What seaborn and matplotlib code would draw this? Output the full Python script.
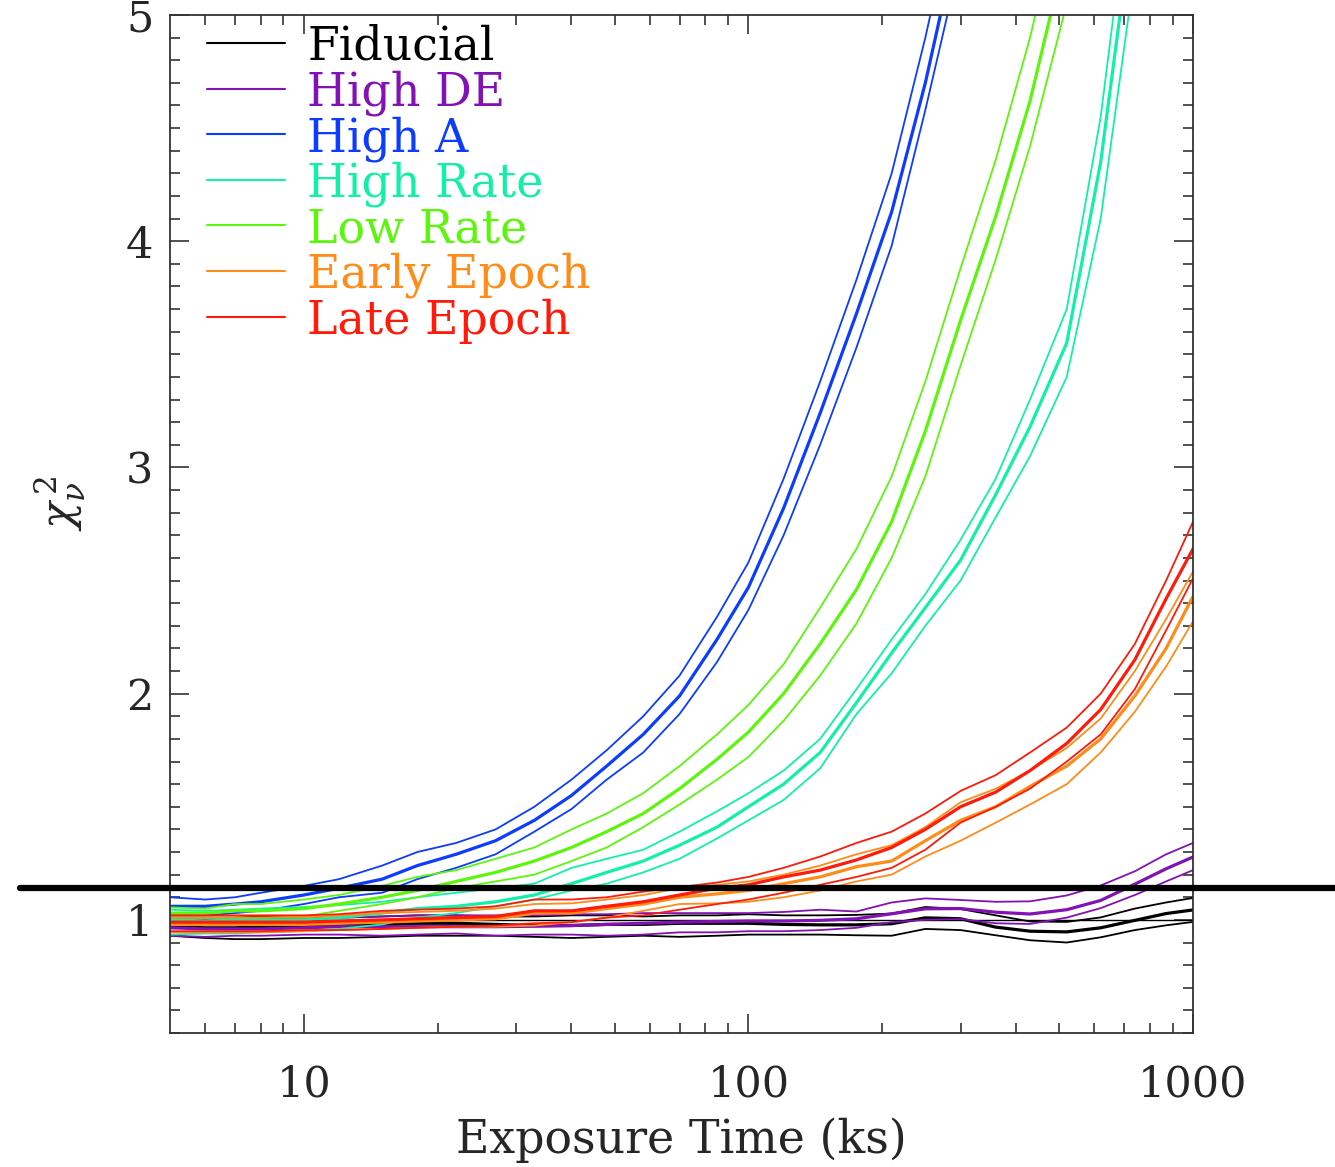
import matplotlib
matplotlib.use('Agg')
import matplotlib.pyplot as plt
import matplotlib.transforms as mtransforms
from matplotlib.lines import Line2D
from matplotlib.ticker import FixedLocator, MultipleLocator, NullFormatter
import numpy as np
import pandas as pd
import seaborn as sns

nan = np.nan

# exposure times (ks) where the curves are sampled
exposure = [5, 6, 7, 8, 10, 12, 15, 18, 22, 27, 33, 40, 48, 58, 70,
            85, 100, 120, 145, 175, 210, 250, 300, 360, 430, 520, 620, 740, 870, 1000]

# reduced chi^2: upper bound, median, lower bound per model
fiducial_hi = [1.01, 1.01, 1.01, 1.015, 1.01, 1.01, 1.015, 1.02, 1.02, 1.015, 1.015, 1.02, 1.02, 1.015, 1.02,
               1.02, 1.025, 1.02, 1.02, 1.022, 1.028, 1.057, 1.048, 1.02, 0.993, 0.991, 1.011, 1.05, 1.077, 1.097]
fiducial_mid = [0.97, 0.965, 0.965, 0.97, 0.975, 0.975, 0.98, 0.985, 0.985, 0.98, 0.975, 0.975, 0.98, 0.98, 0.985,
                0.985, 0.985, 0.98, 0.978, 0.978, 0.983, 1.009, 1.005, 0.968, 0.95, 0.947, 0.965, 0.998, 1.028, 1.044]
fiducial_lo = [0.93, 0.92, 0.915, 0.915, 0.92, 0.92, 0.925, 0.93, 0.93, 0.93, 0.925, 0.92, 0.925, 0.93, 0.925,
               0.93, 0.935, 0.935, 0.935, 0.932, 0.93, 0.96, 0.955, 0.932, 0.91, 0.90, 0.923, 0.955, 0.976, 0.991]

highde_hi = [1.0, 1.0, 1.0, 1.005, 1.005, 1.01, 1.015, 1.02, 1.02, 1.02, 1.02, 1.025, 1.025, 1.03, 1.03,
             1.03, 1.03, 1.035, 1.045, 1.037, 1.077, 1.095, 1.088, 1.08, 1.082, 1.108, 1.152, 1.215, 1.29, 1.34]
highde_mid = [0.965, 0.96, 0.96, 0.96, 0.965, 0.97, 0.97, 0.97, 0.97, 0.97, 0.972, 0.975, 0.98, 0.985, 0.99,
              0.993, 0.995, 0.995, 0.998, 1.005, 1.027, 1.049, 1.05, 1.034, 1.026, 1.045, 1.086, 1.158, 1.226, 1.278]
highde_lo = [0.93, 0.925, 0.93, 0.93, 0.935, 0.935, 0.93, 0.935, 0.94, 0.93, 0.935, 0.935, 0.93, 0.935, 0.945,
             0.945, 0.95, 0.95, 0.955, 0.965, 0.99, 1.0, 1.004, 0.985, 0.982, 1.01, 1.052, 1.11, 1.17, 1.22]

higha_hi = [1.10, 1.09, 1.10, 1.12, 1.15, 1.18, 1.24, 1.30, 1.34, 1.40, 1.50, 1.62, 1.75, 1.90, 2.08,
            2.34, 2.58, 2.95, 3.38, 3.83, 4.30, 4.90, 5.60, nan, nan, nan, nan, nan, nan, nan]
higha_mid = [1.06, 1.06, 1.07, 1.08, 1.11, 1.14, 1.18, 1.24, 1.29, 1.35, 1.44, 1.55, 1.68, 1.82, 1.99,
             2.24, 2.47, 2.82, 3.24, 3.68, 4.13, 4.70, 5.40, nan, nan, nan, nan, nan, nan, nan]
higha_lo = [1.02, 1.02, 1.03, 1.04, 1.07, 1.10, 1.12, 1.18, 1.23, 1.29, 1.39, 1.49, 1.62, 1.74, 1.91,
            2.14, 2.37, 2.70, 3.10, 3.53, 3.98, 4.58, 5.25, nan, nan, nan, nan, nan, nan, nan]

highrate_hi = [1.045, 1.04, 1.045, 1.05, 1.057, 1.065, 1.08, 1.10, 1.12, 1.14, 1.16, 1.23, 1.27, 1.31, 1.39,
               1.48, 1.56, 1.66, 1.80, 2.02, 2.24, 2.44, 2.68, 2.95, 3.30, 3.70, 4.55, 5.75, nan, nan]
highrate_mid = [1.00, 0.995, 1.0, 1.0, 1.0, 1.01, 1.03, 1.05, 1.06, 1.08, 1.11, 1.16, 1.21, 1.26, 1.33,
                1.41, 1.50, 1.60, 1.74, 1.96, 2.18, 2.38, 2.59, 2.88, 3.18, 3.55, 4.35, 5.50, nan, nan]
highrate_lo = [0.935, 0.94, 0.94, 0.945, 0.95, 0.96, 0.98, 1.01, 1.03, 1.06, 1.09, 1.13, 1.16, 1.21, 1.27,
               1.36, 1.44, 1.53, 1.67, 1.91, 2.09, 2.30, 2.50, 2.78, 3.05, 3.40, 4.10, 5.20, nan, nan]

lowrate_hi = [1.055, 1.05, 1.07, 1.07, 1.09, 1.11, 1.15, 1.19, 1.22, 1.27, 1.32, 1.40, 1.47, 1.56, 1.68,
              1.82, 1.95, 2.13, 2.38, 2.64, 2.96, 3.38, 3.88, 4.36, 4.90, 5.60, nan, nan, nan, nan]
lowrate_mid = [1.03, 1.03, 1.04, 1.04, 1.05, 1.07, 1.10, 1.13, 1.17, 1.21, 1.26, 1.32, 1.39, 1.47, 1.58,
               1.71, 1.83, 2.00, 2.22, 2.46, 2.76, 3.16, 3.65, 4.11, 4.62, 5.30, nan, nan, nan, nan]
lowrate_lo = [1.01, 1.01, 1.01, 1.01, 1.015, 1.04, 1.07, 1.10, 1.14, 1.17, 1.20, 1.26, 1.32, 1.41, 1.51,
              1.62, 1.72, 1.88, 2.08, 2.31, 2.60, 2.96, 3.45, 3.92, 4.42, 5.05, nan, nan, nan, nan]

early_hi = [1.01, 1.01, 1.01, 1.01, 1.01, 1.02, 1.03, 1.035, 1.04, 1.05, 1.07, 1.073, 1.09, 1.11, 1.14,
            1.155, 1.17, 1.20, 1.24, 1.29, 1.33, 1.41, 1.52, 1.58, 1.66, 1.76, 1.89, 2.10, 2.33, 2.54]
early_mid = [0.98, 0.98, 0.98, 0.98, 0.98, 0.985, 0.99, 0.995, 1.0, 1.005, 1.03, 1.03, 1.05, 1.07, 1.10,
             1.115, 1.13, 1.16, 1.19, 1.235, 1.26, 1.35, 1.44, 1.50, 1.59, 1.68, 1.80, 1.99, 2.20, 2.43]
early_lo = [0.945, 0.945, 0.945, 0.945, 0.95, 0.955, 0.96, 0.965, 0.97, 0.97, 0.975, 0.99, 1.01, 1.04, 1.07,
            1.073, 1.08, 1.10, 1.13, 1.17, 1.20, 1.28, 1.35, 1.43, 1.51, 1.60, 1.74, 1.92, 2.12, 2.32]

late_hi = [1.02, 1.02, 1.02, 1.02, 1.02, 1.025, 1.04, 1.045, 1.05, 1.06, 1.09, 1.09, 1.10, 1.125, 1.145,
           1.165, 1.19, 1.23, 1.28, 1.34, 1.39, 1.47, 1.57, 1.64, 1.74, 1.85, 2.00, 2.22, 2.50, 2.76]
late_mid = [0.99, 0.99, 0.99, 0.99, 0.99, 0.995, 1.0, 1.005, 1.01, 1.015, 1.04, 1.04, 1.06, 1.08, 1.11,
            1.14, 1.155, 1.19, 1.22, 1.265, 1.32, 1.40, 1.50, 1.565, 1.66, 1.78, 1.93, 2.15, 2.42, 2.64]
late_lo = [0.95, 0.95, 0.95, 0.95, 0.955, 0.955, 0.96, 0.965, 0.97, 0.975, 0.985, 0.99, 1.01, 1.02, 1.045,
           1.07, 1.09, 1.12, 1.155, 1.19, 1.23, 1.31, 1.43, 1.50, 1.58, 1.70, 1.82, 2.02, 2.28, 2.51]

models = ['Fiducial', 'High DE', 'High A', 'High Rate', 'Low Rate', 'Early Epoch', 'Late Epoch']
colors = ['#000000', '#8212b4', '#0c3cff', '#12f0a8', '#5cf50c', '#ff8c18', '#ff1a0a']
curves = [
    (fiducial_hi, fiducial_mid, fiducial_lo),
    (highde_hi, highde_mid, highde_lo),
    (higha_hi, higha_mid, higha_lo),
    (highrate_hi, highrate_mid, highrate_lo),
    (lowrate_hi, lowrate_mid, lowrate_lo),
    (early_hi, early_mid, early_lo),
    (late_hi, late_mid, late_lo),
]
threshold = 1.14

rows = []
for name, (hi, mid, lo) in zip(models, curves):
    for band, vals in (('hi', hi), ('mid', mid), ('lo', lo)):
        for x, y in zip(exposure, vals):
            rows.append({'exposure': x, 'chi2': y, 'model': name, 'band': band})
df = pd.DataFrame(rows).dropna()

sns.set_style('ticks')
plt.rcParams['font.family'] = ['DejaVu Serif']
plt.rcParams['mathtext.fontset'] = 'dejavuserif'

W, H = 1335, 1167
fig = plt.figure(figsize=(W / 100, H / 100), dpi=100)
fig.patch.set_facecolor('white')
ax = fig.add_axes([170 / W, 1 - 1033 / H, (1193 - 170) / W, (1033 - 15) / H])

sns.lineplot(data=df, x='exposure', y='chi2', hue='model', hue_order=models,
             palette=dict(zip(models, colors)), size='band',
             sizes={'hi': 1.3, 'mid': 2.3, 'lo': 1.3}, size_order=['hi', 'mid', 'lo'],
             estimator=None, legend=False, ax=ax)

ax.axhline(1.0, color='black', lw=1.0, zorder=1)

ax.set_xscale('log')
ax.set_xlim(5, 1000)
ax.set_ylim(0.5, 5)

ax.xaxis.set_major_locator(FixedLocator([10, 100, 1000]))
ax.xaxis.set_minor_locator(FixedLocator([6, 7, 8, 9] + [k * 10 for k in range(2, 10)]
                                        + [k * 100 for k in range(2, 10)]))
ax.xaxis.set_minor_formatter(NullFormatter())
ax.set_xticklabels(['10', '100', '1000'])
ax.yaxis.set_major_locator(FixedLocator([1, 2, 3, 4, 5]))
ax.yaxis.set_minor_locator(MultipleLocator(0.1))
ax.set_yticklabels(['1', '2', '3', '4', '5'])

ax.tick_params(which='both', direction='in', top=True, right=True, width=1.2, color='#333333')
ax.tick_params(which='major', length=14, labelsize=31)
ax.tick_params(which='minor', length=7)
ax.tick_params(axis='x', which='major', pad=22)
ax.tick_params(axis='y', which='major', pad=12)
for spine in ax.spines.values():
    spine.set_linewidth(1.3)
    spine.set_color('#333333')

ax.set_xlabel('Exposure Time (ks)', fontsize=33)
ax.xaxis.set_label_coords(0.5, -0.083)
ax.set_ylabel(r'$\chi_{\nu}^{\,2}$', fontsize=32)
ax.yaxis.set_label_coords(-0.08, 0.52)

# significance threshold, drawn across the whole figure width
trans = mtransforms.blended_transform_factory(fig.transFigure, ax.transData)
fig.add_artist(Line2D([20 / W, 1.0], [threshold, threshold], transform=trans,
                      color='black', lw=4.5))

# legend: short line + coloured label
for i, (name, col) in enumerate(zip(models, colors)):
    yl = 43 + 45.6 * i
    fig.add_artist(Line2D([207 / W, 285 / W], [1 - yl / H, 1 - yl / H],
                          transform=fig.transFigure, color=col, lw=1.5))
    fig.text(307 / W, 1 - (yl + 17) / H, name, color=col, fontsize=33,
             ha='left', va='baseline')

fig.savefig('out.png', dpi=100, facecolor='white')
plt.close(fig)
